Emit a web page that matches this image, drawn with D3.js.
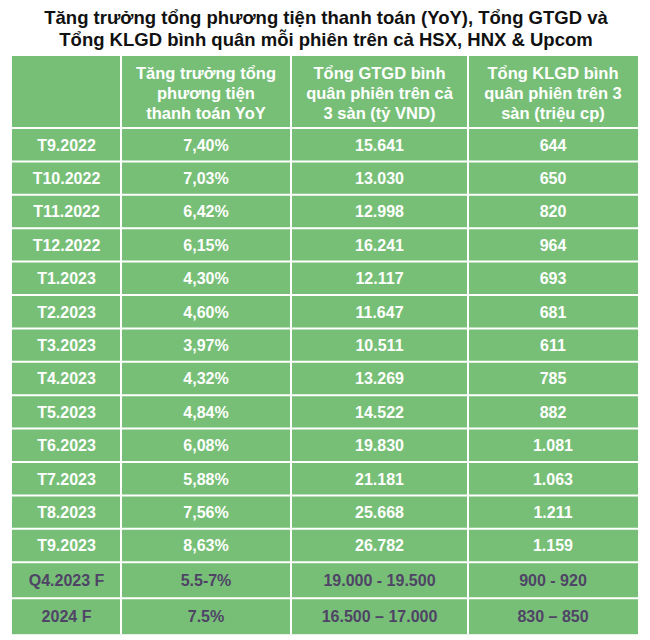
<!DOCTYPE html>
<meta charset="utf-8">
<head><title>Tăng trưởng tổng phương tiện thanh toán</title>
<style>
body { margin: 0; background: #fff; }
svg text { font-family: "Liberation Sans", Arial, sans-serif; font-weight: bold; }
</style>
</head>
<body>
<svg width="650" height="640"></svg>
<script src="https://cdn.jsdelivr.net/npm/d3@7"></script>
<script>

// data
var titleLines = ["Tăng trưởng tổng phương tiện thanh toán (YoY), Tổng GTGD và",
                  "Tổng KLGD bình quân mỗi phiên trên cả HSX, HNX & Upcom"];
var headers = [
  [],
  ["Tăng trưởng tổng", "phương tiện", "thanh toán YoY"],
  ["Tổng GTGD bình", "quân phiên trên cả", "3 sàn (tỷ VND)"],
  ["Tổng KLGD bình", "quân phiên trên 3", "sàn (triệu cp)"]
];
var periods = ["T9.2022","T10.2022","T11.2022","T12.2022","T1.2023","T2.2023","T3.2023",
               "T4.2023","T5.2023","T6.2023","T7.2023","T8.2023","T9.2023","Q4.2023 F","2024 F"];
var yoy  = ["7,40%","7,03%","6,42%","6,15%","4,30%","4,60%","3,97%","4,32%","4,84%",
            "6,08%","5,88%","7,56%","8,63%","5.5-7%","7.5%"];
var gtgd = ["15.641","13.030","12.998","16.241","12.117","11.647","10.511","13.269","14.522",
            "19.830","21.181","25.668","26.782","19.000 - 19.500","16.500 – 17.000"];
var klgd = ["644","650","820","964","693","681","611","785","882",
            "1.081","1.063","1.211","1.159","900 - 920","830 – 850"];
var forecast = ["Q4.2023 F","2024 F"];

var svg = d3.select("svg");
var green = "#77bf77",
    purple = "#4f4466";

// layout
var colEdges = [12, 121, 291, 468, 638];
var tableTop = 56, headerH = 72, rowH = 33.4, fcRowH = 36;

var rows = periods.map(function(p, i) {
  return { period: p, cells: [p, yoy[i], gtgd[i], klgd[i]], fc: forecast.indexOf(p) >= 0 };
});
var y0 = tableTop + headerH;
rows.forEach(function(r) { r.y = y0; r.h = r.fc ? fcRowH : rowH; y0 += r.h; });
var tableBottom = y0;

// title
svg.append("g").selectAll("text")
  .data(titleLines)
  .enter().append("text")
    .attr("x", 326)
    .attr("y", function(d, i) { return 24 + i * 22; })
    .attr("text-anchor", "middle")
    .style("font-size", "18.5px")
    .attr("fill", "#111")
    .text(function(d) { return d; });

// background
svg.append("rect")
  .attr("x", colEdges[0]).attr("y", tableTop)
  .attr("width", colEdges[4] - colEdges[0])
  .attr("height", tableBottom - tableTop)
  .attr("fill", green);

// header text
var hg = svg.append("g");
headers.forEach(function(lines, c) {
  hg.selectAll(null)
    .data(lines)
    .enter().append("text")
      .attr("x", (colEdges[c] + colEdges[c + 1]) / 2)
      .attr("y", function(d, i) { return tableTop + 23 + i * 20; })
      .attr("text-anchor", "middle")
      .attr("fill", "#fff")
      .style("font-size", "16.5px")
      .text(function(d) { return d; });
});

// body rows
var rg = svg.append("g").selectAll("g")
  .data(rows)
  .enter().append("g")
    .attr("transform", function(d) { return "translate(0," + d.y + ")"; });

rg.selectAll("text")
  .data(function(d) { return d.cells.map(function(v) { return { v: v, r: d }; }); })
  .enter().append("text")
    .attr("x", function(d, i) { return (colEdges[i] + colEdges[i + 1]) / 2; })
    .attr("y", function(d) { return d.r.h / 2 + 6; })
    .attr("text-anchor", "middle")
    .attr("fill", function(d) { return d.r.fc ? purple : "#fff"; })
    .style("font-size", "16px")
    .text(function(d) { return d.v; });

// grid lines
var grid = svg.append("g").attr("stroke", "#fff").attr("stroke-width", 2);
grid.selectAll("line.h")
  .data(rows)
  .enter().append("line")
    .attr("x1", colEdges[0]).attr("x2", colEdges[4])
    .attr("y1", function(d) { return d.y; })
    .attr("y2", function(d) { return d.y; });
grid.selectAll("line.v")
  .data(colEdges.slice(1, 4))
  .enter().append("line")
    .attr("x1", function(d) { return d; }).attr("x2", function(d) { return d; })
    .attr("y1", tableTop).attr("y2", tableBottom);

</script>
</body>
